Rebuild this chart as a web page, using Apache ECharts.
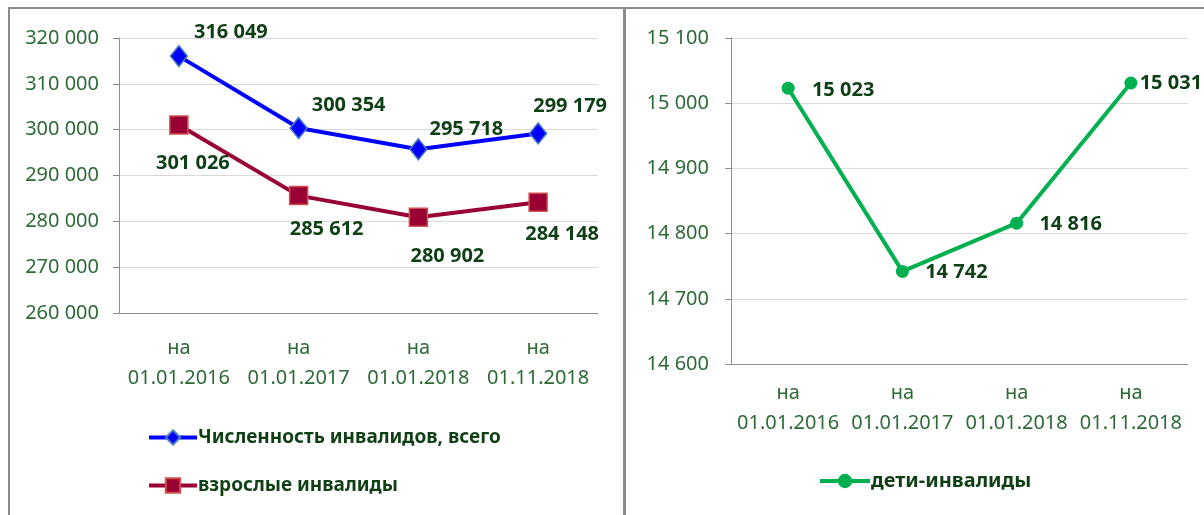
<!DOCTYPE html>
<html>
<head>
<meta charset="utf-8">
<script src="https://cdn.jsdelivr.net/npm/echarts@6/dist/echarts.min.js"></script>
<style>
  html, body { margin: 0; padding: 0; background: #fff; }
  #chart { width: 1204px; height: 515px; }
</style>
</head>
<body>
<div id="chart"></div>
<script>
// данные
var categories = ['на\n01.01.2016', 'на\n01.01.2017', 'на\n01.01.2018', 'на\n01.11.2018'];
var totalInvalids = [316049, 300354, 295718, 299179];   // Численность инвалидов, всего
var adultInvalids = [301026, 285612, 280902, 284148];   // взрослые инвалиды
var childInvalids = [15023, 14742, 14816, 15031];       // дети-инвалиды

// смещения подписей (от центра точки)
var totalOffsets = [[52, -24], [50, -23], [48, -20], [32, -27]];
var adultOffsets = [[14, 38], [28, 34], [29, 39], [24, 32]];
var childOffsets = [[55, 2], [54, 1], [54, 1], [40, 0]];

var axisTextColor = '#2d6a36';
var labelColor = '#0f3f14';
var fontName = 'Noto Sans';

function fmt(v) {
  return String(v).replace(/\B(?=(\d{3})+(?!\d))/g, ' ');
}

function withLabels(values, offsets) {
  return values.map(function (v, i) {
    return { value: v, label: { offset: offsets[i] } };
  });
}

var chartDom = document.getElementById('chart');
var myChart = echarts.init(chartDom, null, { renderer: 'canvas' });

var dataLabel = {
  show: true,
  position: 'inside',
  color: labelColor,
  fontFamily: fontName,
  fontWeight: 'bold',
  fontSize: 20,
  formatter: function (p) { return fmt(p.value); }
};

function xAxisCfg(gridIndex, margin) {
  return {
    type: 'category',
    gridIndex: gridIndex,
    data: categories,
    axisLine: { lineStyle: { color: '#8c8c8c', width: 1 } },
    axisTick: { length: 7, lineStyle: { color: '#8c8c8c' } },
    axisLabel: {
      color: axisTextColor,
      fontFamily: fontName,
      fontSize: 20,
      lineHeight: 30,
      margin: margin,
      interval: 0
    }
  };
}

function yAxisCfg(gridIndex, min, max, interval, margin) {
  return {
    type: 'value',
    gridIndex: gridIndex,
    min: min,
    max: max,
    interval: interval,
    axisLine: { show: true, lineStyle: { color: '#8c8c8c', width: 1 } },
    axisTick: { show: true, length: 6, lineStyle: { color: '#8c8c8c' } },
    splitLine: { lineStyle: { color: '#d9d9d9', width: 1 } },
    axisLabel: {
      color: axisTextColor,
      fontFamily: fontName,
      fontSize: 20,
      margin: margin,
      formatter: function (v) { return fmt(v); }
    }
  };
}

var legendText = { color: labelColor, fontFamily: fontName, fontWeight: 'bold', fontSize: 19, padding: [0, 0, 0, -4] };

var option = {
  animation: false,
  backgroundColor: '#fff',
  graphic: [
    {
      type: 'rect',
      shape: { x: 9, y: 8, width: 615, height: 520 },
      style: { fill: 'none', stroke: '#8c8c8c', lineWidth: 2 },
      silent: true
    },
    {
      type: 'rect',
      shape: { x: 625, y: 8, width: 600, height: 520 },
      style: { fill: 'none', stroke: '#8c8c8c', lineWidth: 2 },
      silent: true
    }
  ],
  grid: [
    { left: 119, top: 38, width: 479, height: 275 },
    { left: 731, top: 38, width: 457, height: 326 }
  ],
  legend: [
    {
      data: ['Численность инвалидов, всего', 'взрослые инвалиды'],
      orient: 'vertical',
      left: 142,
      top: 423,
      itemWidth: 48,
      itemHeight: 18,
      itemGap: 29,
      lineStyle: { width: 4 },
      textStyle: legendText
    },
    {
      data: ['дети-инвалиды'],
      left: 813,
      top: 466,
      itemWidth: 50,
      itemHeight: 18,
      lineStyle: { width: 4 },
      textStyle: Object.assign({}, legendText, { fontSize: 20 })
    }
  ],
  xAxis: [xAxisCfg(0, 20), xAxisCfg(1, 14)],
  yAxis: [
    yAxisCfg(0, 260000, 320000, 10000, 20),
    yAxisCfg(1, 14600, 15100, 100, 22)
  ],
  series: [
    {
      name: 'Численность инвалидов, всего',
      type: 'line',
      xAxisIndex: 0,
      yAxisIndex: 0,
      symbol: 'diamond',
      symbolSize: [17, 21],
      lineStyle: { color: '#0000ff', width: 4 },
      itemStyle: { color: '#0000ff', borderColor: '#4a7ebb', borderWidth: 1.5 },
      label: dataLabel,
      data: withLabels(totalInvalids, totalOffsets)
    },
    {
      name: 'взрослые инвалиды',
      type: 'line',
      xAxisIndex: 0,
      yAxisIndex: 0,
      symbol: 'rect',
      symbolSize: 18,
      lineStyle: { color: '#990033', width: 4 },
      itemStyle: { color: '#990033', borderColor: '#d0504d', borderWidth: 1.5 },
      label: dataLabel,
      data: withLabels(adultInvalids, adultOffsets)
    },
    {
      name: 'дети-инвалиды',
      type: 'line',
      xAxisIndex: 1,
      yAxisIndex: 1,
      symbol: 'circle',
      symbolSize: 13,
      lineStyle: { color: '#00b050', width: 4 },
      itemStyle: { color: '#00b050' },
      label: dataLabel,
      data: withLabels(childInvalids, childOffsets)
    }
  ]
};

myChart.setOption(option);
</script>
</body>
</html>
